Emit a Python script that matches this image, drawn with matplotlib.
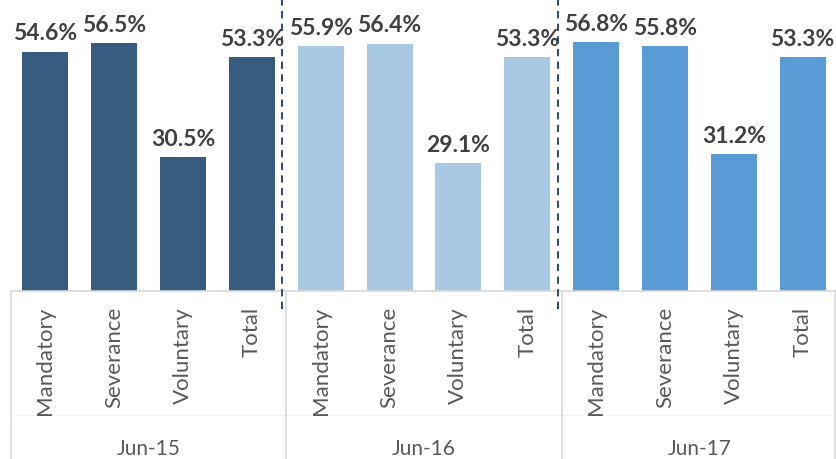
import matplotlib.pyplot as plt
import matplotlib.transforms as mtransforms

# Separation rates by type, three reporting periods
periods = ['Jun-15', 'Jun-16', 'Jun-17']
types = ['Mandatory', 'Severance', 'Voluntary', 'Total']
rates = {
    'Jun-15': [54.6, 56.5, 30.5, 53.3],
    'Jun-16': [55.9, 56.4, 29.1, 53.3],
    'Jun-17': [56.8, 55.8, 31.2, 53.3],
}
colors = ['#375c7f', '#a9c8e3', '#5b9bd5']

plt.rcParams['font.family'] = ['Lato', 'DejaVu Sans']

fig = plt.figure(figsize=(8.37, 4.60), dpi=100)
ax = fig.add_axes([11 / 837, 168 / 460, 826 / 837, 292 / 460])

n = len(types)
for g, period in enumerate(periods):
    xs = [g * n + i for i in range(n)]
    bars = ax.bar(xs, rates[period], width=0.67, color=colors[g])
    for x, v in zip(xs, rates[period]):
        ax.annotate(f'{v:.1f}%', (x, v), xytext=(0, 6), textcoords='offset points',
                    ha='center', va='bottom', fontsize=16.5, fontweight='bold',
                    color='#404040')

ax.set_xlim(-0.5, n * len(periods) - 0.5)
ax.set_ylim(0, 292 / 4.384)
ax.set_xticks([])
ax.set_yticks([])
for s in ax.spines.values():
    s.set_visible(False)

# category box below the bars
trans = mtransforms.blended_transform_factory(ax.transData, ax.transAxes)
box_bottom = -168 / 292
grid_col = '#d9d9d9'
ax.plot([-0.5, n * len(periods) - 0.53], [0, 0], transform=trans, color=grid_col,
        lw=1.2, clip_on=False)
ax.plot([-0.5, n * len(periods) - 0.53], [-124 / 292, -124 / 292], transform=trans,
        color='#f4f4f4', lw=0.8, clip_on=False)
for b in range(len(periods) + 1):
    xb = b * n - 0.5 if b < len(periods) else n * len(periods) - 0.53
    ax.plot([xb, xb], [0, box_bottom], transform=trans, color=grid_col, lw=1.2,
            clip_on=False)

for g, period in enumerate(periods):
    for i, t in enumerate(types):
        ax.text(g * n + i, -15 / 292, t, transform=trans, rotation=90,
                ha='center', va='top', fontsize=16, color='#595959')
    ax.text(g * n + (n - 1) / 2, -157 / 292, period, transform=trans,
            ha='center', va='center', fontsize=15, color='#595959')

# dashed dividers between periods
for g in range(1, len(periods)):
    xd = g * n - 0.56
    ax.plot([xd, xd], [-18 / 292, 1], transform=trans, color='#1f3864', lw=1.3,
            ls=(0, (4, 3)), clip_on=False)

fig.savefig('out.png', dpi=100)
